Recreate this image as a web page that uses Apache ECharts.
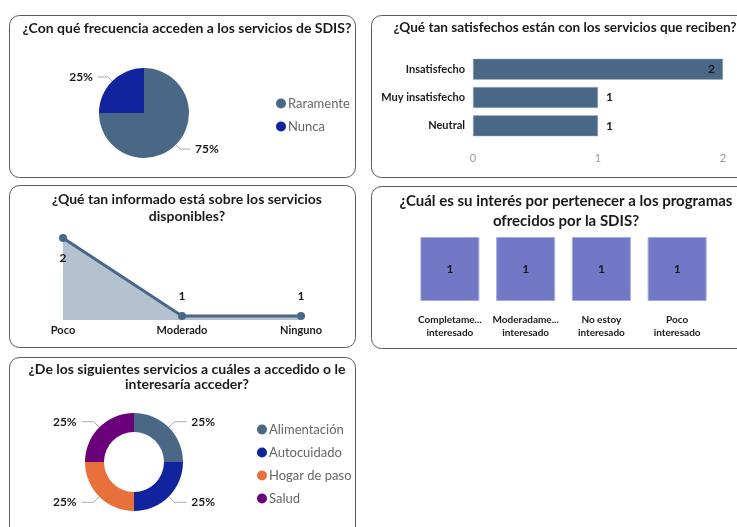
<!DOCTYPE html>
<html>
<head>
<meta charset="utf-8">
<script src="https://cdn.jsdelivr.net/npm/echarts@6/dist/echarts.min.js"></script>
<style>
  html, body { margin: 0; padding: 0; background: #fff; }
  #main { width: 737px; height: 527px; }
</style>
</head>
<body>
<div id="main"></div>
<script>
// frecuencia (pie)
const freqNames = ['Raramente', 'Nunca'];
const freqValues = [3, 1];
// satisfaccion (barras horizontales)
const satNames = ['Insatisfecho', 'Muy insatisfecho', 'Neutral'];
const satValues = [2, 1, 1];
// informado (linea)
const infoNames = ['Poco', 'Moderado', 'Ninguno'];
const infoValues = [2, 1, 1];
// interes (cuadros)
const intNames = ['Completame...\ninteresado', 'Moderadame...\ninteresado', 'No estoy\ninteresado', 'Poco\ninteresado'];
const intValues = [1, 1, 1, 1];
// servicios (dona)
const servNames = ['Alimentación', 'Autocuidado', 'Hogar de paso', 'Salud'];
const servValues = [1, 1, 1, 1];

const FONT = 'Lato';
const DARK = '#1a1a1a';
const SLATE = '#4A6886';

const chart = echarts.init(document.getElementById('main'));

function panel(x, y, w, h) {
    return {
        type: 'rect',
        shape: { x: x + 0.5, y: y + 0.5, width: w, height: h, r: 10 },
        style: { fill: 'none', stroke: '#5a5a5a', lineWidth: 1 },
        silent: true
    };
}

function title(text, x, y, size, lh) {
    return {
        text: text,
        left: x,
        top: y,
        textAlign: 'center',
        textStyle: { fontFamily: FONT, fontWeight: 'bold', fontSize: size, color: DARK, lineHeight: lh }
    };
}

const labelBold = { fontFamily: FONT, fontWeight: 'bold', fontSize: 12, color: DARK };

const option = {
    animation: false,
    graphic: [
        panel(9, 15, 346, 162),
        panel(371, 15, 380, 162),
        panel(9, 185, 346, 162),
        panel(371, 186, 380, 162),
        panel(9, 357, 346, 200)
    ],
    title: [
        title('¿Con qué frecuencia acceden a los servicios de SDIS?', 182, 14, 14, 18),
        title('¿Qué tan satisfechos están con los servicios que reciben?', 560, 14, 13.6, 18),
        title('¿Qué tan informado está sobre los servicios\ndisponibles?', 182, 186, 14, 17),
        title('¿Cuál es su interés por pertenecer a los programas\nofrecidos por la SDIS?', 561, 186, 15, 20),
        title('¿De los siguientes servicios a cuáles a accedido o le\ninteresaría acceder?', 182, 357, 14, 15)
    ],
    legend: [
        {
            data: freqNames,
            orient: 'vertical',
            left: 271, top: 92,
            icon: 'circle', itemWidth: 10, itemHeight: 10, itemGap: 10,
            textStyle: { fontFamily: FONT, fontSize: 13, color: '#666', padding: [0, 0, 0, -3] }
        },
        {
            data: servNames,
            orient: 'vertical',
            left: 252, top: 418,
            icon: 'circle', itemWidth: 10, itemHeight: 10, itemGap: 10,
            textStyle: { fontFamily: FONT, fontSize: 13, color: '#666', padding: [0, 0, 0, -3] }
        }
    ],
    grid: [
        { left: 473, top: 55, width: 250, height: 85 },
        { left: 63, top: 238, width: 238, height: 82 },
        { left: 412, top: 237, width: 303, height: 64 }
    ],
    xAxis: [
        {
            gridIndex: 0, type: 'value', min: 0, max: 2, interval: 1,
            axisLine: { show: false }, axisTick: { show: false }, splitLine: { show: false },
            axisLabel: { margin: 13, fontFamily: FONT, fontSize: 11, color: '#999' }
        },
        {
            gridIndex: 1, type: 'category', data: infoNames, boundaryGap: false,
            axisLine: { show: false }, axisTick: { show: false },
            axisLabel: { margin: 5, fontFamily: FONT, fontWeight: 'bold', fontSize: 11, color: DARK }
        },
        {
            gridIndex: 2, type: 'category', data: intNames,
            axisLine: { show: false }, axisTick: { show: false },
            axisLabel: { interval: 0, margin: 12, fontFamily: FONT, fontWeight: 'bold', fontSize: 10, color: DARK, lineHeight: 13 }
        }
    ],
    yAxis: [
        {
            gridIndex: 0, type: 'category', data: satNames, inverse: true,
            axisLine: { show: false }, axisTick: { show: false },
            axisLabel: { margin: 8, fontFamily: FONT, fontWeight: 'bold', fontSize: 11, color: DARK }
        },
        { gridIndex: 1, type: 'value', min: 0.95, max: 2, show: false },
        { gridIndex: 2, type: 'value', min: 0, max: 1, show: false }
    ],
    series: [
        {
            type: 'pie',
            center: [144, 113],
            radius: 45,
            data: freqNames.map((n, i) => ({ name: n, value: freqValues[i] })),
            color: [SLATE, '#12239E'],
            label: {
                formatter: p => Math.round(p.percent) + '%',
                fontFamily: FONT, fontWeight: 'bold', fontSize: 12, color: DARK
            },
            labelLine: { length: 6, length2: 10, lineStyle: { color: '#aaa' } }
        },
        {
            type: 'bar',
            xAxisIndex: 0, yAxisIndex: 0,
            barWidth: 21,
            itemStyle: { color: SLATE, borderColor: '#9fb0c2', borderWidth: 0.5 },
            data: satValues.map(v => ({
                value: v,
                label: { position: v === Math.max(...satValues) ? 'insideRight' : 'right' }
            })),
            label: { show: true, distance: 8, ...labelBold }
        },
        {
            type: 'line',
            xAxisIndex: 1, yAxisIndex: 1,
            symbol: 'circle', symbolSize: 8,
            lineStyle: { color: SLATE, width: 3 },
            itemStyle: { color: SLATE },
            areaStyle: { color: '#B4C2D0', opacity: 1, origin: 'start' },
            data: infoValues.map(v => ({
                value: v,
                label: { position: v === Math.max(...infoValues) ? 'bottom' : 'top' }
            })),
            label: { show: true, distance: 10, ...labelBold }
        },
        {
            type: 'bar',
            xAxisIndex: 2, yAxisIndex: 2,
            barWidth: 59,
            itemStyle: { color: '#7179C7', borderColor: '#a6acdd', borderWidth: 1 },
            data: intValues,
            label: { show: true, position: 'inside', ...labelBold }
        },
        {
            type: 'pie',
            center: [134, 462],
            radius: [30, 49],
            data: servNames.map((n, i) => ({ name: n, value: servValues[i] })),
            color: [SLATE, '#12239E', '#E8703A', '#6B007B'],
            label: {
                formatter: p => Math.round(p.percent) + '%',
                fontFamily: FONT, fontWeight: 'bold', fontSize: 12, color: DARK
            },
            labelLine: { length: 8, length2: 12, lineStyle: { color: '#aaa' } }
        }
    ]
};

chart.setOption(option);
</script>
</body>
</html>
